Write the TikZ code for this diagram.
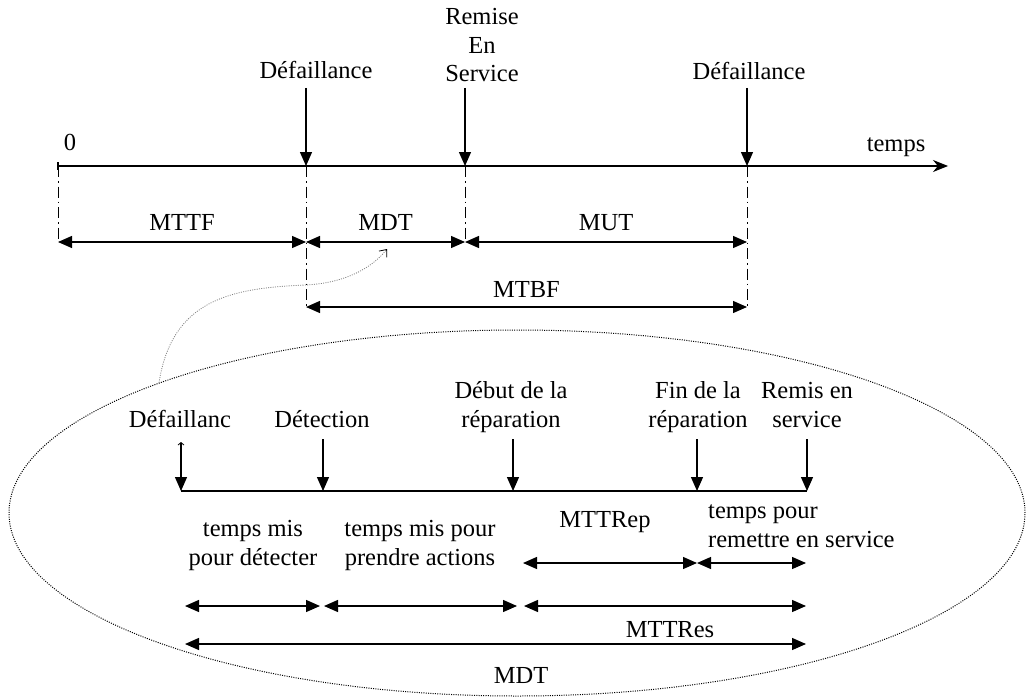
\documentclass[tikz,border=0pt]{standalone}
\usepackage{fontspec}
\setmainfont{Liberation Serif}
\usetikzlibrary{arrows.meta,shapes.geometric}

\begin{document}
\begin{tikzpicture}[x=1pt,y=-1pt,
    txt/.style={font=\fontsize{24.5}{28.5}\selectfont,inner sep=0pt,anchor=base},
    tip/.style={line width=1.3pt,-{Triangle[length=14pt,width=12pt]}},
    span/.style={line width=1.3pt,{Triangle[length=14pt,width=12pt]}-{Triangle[length=14pt,width=12pt]}},
    guide/.style={line width=1pt,dash pattern=on 11pt off 4pt on 1.5pt off 4pt}]
    \useasboundingbox (0,0) rectangle (1027,698);
    % axe du temps
    \coordinate (o) at (58,166);
    \coordinate (f1) at (306,166);
    \coordinate (r1) at (465,166);
    \coordinate (f2) at (747,166);
    \coordinate (fin) at (948,166);
    \draw[line width=1.3pt,-{Stealth[length=15pt,width=12pt]}] (o) -- (fin);
    \draw[line width=1.3pt] ([yshift=4pt]o) -- ([yshift=-4pt]o);
    \node[txt] (zero) at (70,150) {0};
    \node[txt] (temps) at (896,151) {temps};
    \node[txt] (def1) at (316,79) {Défaillance};
    \node[txt,align=center] (remise) at (482,82) {Remise\\En\\Service};
    \node[txt] (def2) at (749,80) {Défaillance};
    \foreach \p in {f1,r1,f2}
        \draw[tip] ([yshift=78pt]\p) -- (\p);
    % durees
    \coordinate (a0) at (58,242);
    \coordinate (a1) at (306,242);
    \coordinate (a2) at (465,242);
    \coordinate (a3) at (747,242);
    \coordinate (b1) at (306,307);
    \coordinate (b3) at (747,307);
    \draw[guide] (o) -- (a0);
    \draw[guide] (f1) -- (b1);
    \draw[guide] (r1) -- (a2);
    \draw[guide] (f2) -- (b3);
    \draw[span] (a0) -- node[txt,yshift=12pt] (mttf) {MTTF} (a1);
    \draw[span] (a1) -- node[txt,yshift=12pt] (mdt) {MDT} (a2);
    \draw[span] (a2) -- node[txt,yshift=12pt] (mut) {MUT} (a3);
    \draw[span] (b1) -- node[txt,yshift=10pt] (mtbf) {MTBF} (b3);
    % zoom sur le MDT
    \node[draw,ellipse,line width=1pt,dash pattern=on 1pt off 1.3pt,minimum width=1016pt,minimum height=366pt,inner sep=0pt] (loupe) at (517,513) {};
    \coordinate (vise) at (387,249);
    \draw[gray,line width=0.8pt,dash pattern=on 1pt off 1.3pt,-{Straight Barb[length=6pt,width=10pt,black]}] (loupe.160) .. controls (172,300) and (230,288) .. (306,285) .. controls (345,283) and (372,268) .. (vise);
    \coordinate (d0) at (181,491);
    \coordinate (d1) at (323,491);
    \coordinate (d2) at (513,491);
    \coordinate (d3) at (697,491);
    \coordinate (d4) at (807,491);
    \draw[line width=1.3pt] (d0) -- (d4);
    \draw[line width=1.3pt,{Straight Barb[length=2.5pt,width=6pt,line width=0.8pt]}-{Triangle[length=14pt,width=12pt]}] ([yshift=49pt]d0) -- (d0);
    \foreach \p in {d1,d2,d3,d4}
        \draw[tip] ([yshift=52pt]\p) -- (\p);
    \node[txt] (defc) at (180,427) {Défaillanc};
    \node[txt] (detect) at (322,427) {Détection};
    \node[txt,align=center] (debut) at (511,427) {Début de la\\réparation};
    \node[txt,align=center] (finrep) at (698,427) {Fin de la\\réparation};
    \node[txt,align=center] (remis) at (807,427) {Remis en\\service};
    \node[txt,align=center] (tdet) at (253,565) {temps mis\\pour détecter};
    \node[txt,align=center] (tact) at (420,565) {temps mis pour\\prendre actions};
    \node[txt] (mttrep) at (605,527) {MTTRep};
    \node[txt,align=left,anchor=base west] (tserv) at (708,547) {temps pour\\remettre en service};
    \coordinate (c1) at (523,563);
    \coordinate (c2) at (697,563);
    \coordinate (c3) at (806,563);
    \draw[span] (c1) -- (c2);
    \draw[span] (c2) -- (c3);
    \coordinate (e0) at (185,606);
    \coordinate (e1) at (320,606);
    \coordinate (e2) at (324,606);
    \coordinate (e3) at (517,606);
    \coordinate (e4) at (524,606);
    \coordinate (e5) at (806,606);
    \draw[span] (e0) -- (e1);
    \draw[span] (e2) -- (e3);
    \draw[span] (e4) -- (e5);
    \node[txt] (mttres) at (670,637) {MTTRes};
    \coordinate (g0) at (185,644);
    \coordinate (g1) at (806,644);
    \draw[span] (g0) -- (g1);
    \node[txt] (mdtbas) at (521,683) {MDT};
\end{tikzpicture}
\end{document}
